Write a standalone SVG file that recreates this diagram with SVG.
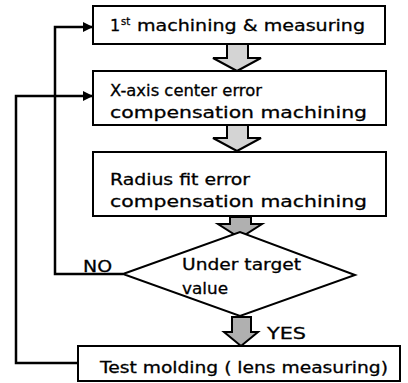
<svg xmlns="http://www.w3.org/2000/svg" width="408" height="383" viewBox="0 0 408 383">
<style>
.box{fill:#fff;stroke:#000;stroke-width:2}
.t{font-family:"DejaVu Sans","Liberation Sans",Arial,sans-serif;font-size:16px;fill:#000;stroke:#000;stroke-width:0.3}
.sup{font-size:10px}
.fat{fill:#d4d4d4;stroke:#000;stroke-width:2;stroke-linejoin:miter}
.fat2{fill:#b0b0b0;stroke:#000;stroke-width:2;stroke-linejoin:miter}
.ln{fill:none;stroke:#000;stroke-width:2.5}
</style>
<defs>
<marker id="ah" markerWidth="10" markerHeight="10" refX="9" refY="5" orient="auto" markerUnits="userSpaceOnUse">
<path d="M0,0 L10,5 L0,10 Z" fill="#000"/>
</marker>
</defs>
<g id="connectors">
<path class="ln" d="M123,274 H55 V27 H92" marker-end="url(#ah)"/>
<path class="ln" d="M78,363 H16 V96 H92" marker-end="url(#ah)"/>
<path class="fat" d="M227,44 H248 V58 H261 L237,71 L213,58 H227 Z"/>
<path class="fat" d="M227,125 H248 V138 H261 L237,151 L213,138 H227 Z"/>
<path class="fat2" d="M230,217 H251 V224 H262 L240,238 L218,224 H230 Z"/>
<path class="fat2" d="M232,317 H251 V332 H258 L241,346 L224,332 H232 Z"/>
</g>
<g id="n1">
<rect class="box" x="93" y="6" width="292" height="38"/>
<text class="t" x="110" y="31">1</text>
<text class="t sup" x="121" y="25">st</text>
<text class="t" x="137" y="31" textLength="228" lengthAdjust="spacingAndGlyphs">machining &amp; measuring</text>
</g>
<g id="n2">
<rect class="box" x="93" y="71" width="293" height="54"/>
<text class="t" x="110" y="96" textLength="152" lengthAdjust="spacingAndGlyphs">X-axis center error</text>
<text class="t" x="110" y="118" textLength="257" lengthAdjust="spacingAndGlyphs">compensation machining</text>
</g>
<g id="n3">
<rect class="box" x="93" y="152" width="293" height="64"/>
<text class="t" x="110" y="185" textLength="140" lengthAdjust="spacingAndGlyphs">Radius fit error</text>
<text class="t" x="110" y="207" textLength="257" lengthAdjust="spacingAndGlyphs">compensation machining</text>
</g>
<g id="n4">
<path class="box" d="M123,274 L240,232 L355,275 L240,316 Z"/>
<text class="t" x="182" y="270" textLength="119" lengthAdjust="spacingAndGlyphs">Under target</text>
<text class="t" x="182" y="294" textLength="46" lengthAdjust="spacingAndGlyphs">value</text>
</g>
<g id="n5">
<rect class="box" x="78" y="346" width="322" height="35"/>
<text class="t" x="100" y="373" textLength="288" lengthAdjust="spacingAndGlyphs">Test molding ( lens measuring)</text>
</g>
<text class="t" x="83" y="272" textLength="29" lengthAdjust="spacingAndGlyphs">NO</text>
<text class="t" x="267" y="339" textLength="39" lengthAdjust="spacingAndGlyphs">YES</text>
</svg>
